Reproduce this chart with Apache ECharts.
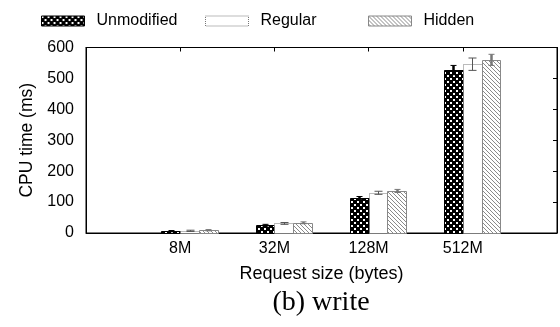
<!DOCTYPE html>
<html><head><meta charset="utf-8">
<script src="https://cdn.jsdelivr.net/npm/echarts@6/dist/echarts.min.js"></script>
<style>html,body{margin:0;padding:0;background:#fff}#c{width:560px;height:327px}</style>
</head><body><div id="c"></div>
<script>
const categories = ['8M', '32M', '128M', '512M'];
const seriesNames = ['Unmodified', 'Regular', 'Hidden'];
const unmodified = [6, 25, 113, 527];
const regular = [7, 31, 130, 546];
const hidden = [9, 33, 136, 560];
const unmodifiedErr = [2, 3, 5, 15];
const regularErr = [2, 3, 5, 20];
const hiddenErr = [2, 3, 5, 18];
const yTicks = [0, 100, 200, 300, 400, 500, 600];

function makeTile(kind) {
  const c = document.createElement('canvas');
  const ctx = c.getContext('2d');
  if (kind === 'check') {
    c.width = 6; c.height = 6;
    ctx.fillStyle = '#000'; ctx.fillRect(0, 0, 6, 6);
    ctx.fillStyle = '#fff';
    ctx.fillRect(0, 0, 2, 2); ctx.fillRect(3, 3, 2, 2);
  } else {
    c.width = 4; c.height = 4;
    ctx.fillStyle = '#fff'; ctx.fillRect(0, 0, 4, 4);
    ctx.fillStyle = '#8a8a8a';
    for (let i = 0; i < 4; i++) ctx.fillRect(i, i, 1, 1);
  }
  return c;
}
const checkPat = { image: makeTile('check'), repeat: 'repeat' };
const hatchPat = { image: makeTile('hatch'), repeat: 'repeat' };

const styles = [
  { color: checkPat, borderColor: '#000', borderWidth: 1, borderType: 'solid', errColor: '#000', errWidth: 2.5, cap: 3 },
  { color: '#fff', borderColor: '#777', borderWidth: 1, borderType: 'dotted', errColor: '#555', errWidth: 1, cap: 4 },
  { color: hatchPat, borderColor: '#888', borderWidth: 1, borderType: 'solid', errColor: '#777', errWidth: 2.5, cap: 3 }
];
const offsets = [-0.1, 0.1, 0.3];
const barW = 0.2;
const allVals = [unmodified, regular, hidden];
const allErr = [unmodifiedErr, regularErr, hiddenErr];

const series = [];
seriesNames.forEach((name, s) => {
  const st = styles[s];
  series.push({
    name: name, type: 'custom', xAxisIndex: 0, yAxisIndex: 0,
    itemStyle: { color: st.color, borderColor: st.borderColor, borderWidth: st.borderWidth, borderType: st.borderType },
    data: categories.map((c, i) => [i, allVals[s][i]]),
    renderItem: function (params, api) {
      const idx = api.value(0), v = api.value(1);
      const p0 = api.coord([idx + offsets[s] - barW / 2, v]);
      const p1 = api.coord([idx + offsets[s] + barW / 2, 0]);
      return {
        type: 'rect',
        shape: { x: Math.round(p0[0]) + 0.5, y: Math.round(p0[1]) + 0.5, width: Math.round(p1[0]) - Math.round(p0[0]), height: Math.round(p1[1]) - Math.round(p0[1]) },
        style: { fill: st.color, stroke: st.borderColor, lineWidth: st.borderWidth, lineDash: st.borderType === 'dotted' ? [1, 1] : null }
      };
    }
  });
  series.push({
    name: name + ' err', type: 'custom', xAxisIndex: 0, yAxisIndex: 0, z: 5,
    data: categories.map((c, i) => [i, allVals[s][i] - allErr[s][i], allVals[s][i] + allErr[s][i]]),
    renderItem: function (params, api) {
      const idx = api.value(0);
      const lo = api.coord([idx + offsets[s], api.value(1)]);
      const hi = api.coord([idx + offsets[s], api.value(2)]);
      const x = Math.round(lo[0]) + 0.5;
      const ls = { stroke: st.errColor, lineWidth: st.errWidth };
      const cs = { stroke: st.errColor, lineWidth: 1 };
      return {
        type: 'group', children: [
          { type: 'line', shape: { x1: x, y1: lo[1], x2: x, y2: hi[1] }, style: ls },
          { type: 'line', shape: { x1: x - st.cap, y1: lo[1], x2: x + st.cap, y2: lo[1] }, style: cs },
          { type: 'line', shape: { x1: x - st.cap, y1: hi[1], x2: x + st.cap, y2: hi[1] }, style: cs }
        ]
      };
    }
  });
});

const font = 'Liberation Sans, Arial, sans-serif';
const legendLefts = [41, 205, 368];
const legends = seriesNames.map((n, s) => ({
  data: [{ name: n, icon: 'rect', itemStyle: { color: styles[s].color, borderColor: styles[s].borderColor, borderWidth: 1, borderType: styles[s].borderType } }],
  left: legendLefts[s], top: 13, itemWidth: 43, itemHeight: 10, padding: 0,
  selectedMode: false,
  textStyle: { fontFamily: font, fontSize: 16, color: '#000', padding: [0, 0, 0, 7] }
}));

const chart = echarts.init(document.getElementById('c'), null, { renderer: 'canvas' });
chart.setOption({
  animation: false,
  backgroundColor: '#fff',
  legend: legends,
  grid: { left: 86, right: 2, top: 47.5, bottom: 94, show: true, borderColor: '#000', borderWidth: 1, backgroundColor: 'transparent' },
  xAxis: [
    {
      type: 'value', min: -1, max: 4, interval: 1, position: 'bottom',
      name: 'Request size (bytes)', nameLocation: 'middle', nameGap: 32,
      nameTextStyle: { fontFamily: font, fontSize: 18, color: '#000' },
      axisLine: { show: true, onZero: false, lineStyle: { color: '#000', width: 1 } },
      axisTick: { show: false }, splitLine: { show: false },
      axisLabel: { fontFamily: font, fontSize: 16, color: '#000', margin: 8,
        formatter: v => (v >= 0 && v < categories.length) ? categories[Math.round(v)] : '' }
    },
    {
      type: 'value', min: -1, max: 4, interval: 1, position: 'top',
      axisLine: { show: true, onZero: false, lineStyle: { color: '#000' } },
      axisTick: { show: true, inside: true, length: 4, lineStyle: { color: '#000' } },
      axisLabel: { show: false }, splitLine: { show: false }
    }
  ],
  yAxis: [
    {
      type: 'value', min: yTicks[0], max: yTicks[yTicks.length - 1], interval: 100, position: 'left',
      name: 'CPU time (ms)', nameLocation: 'middle', nameGap: 45,
      nameTextStyle: { fontFamily: font, fontSize: 17.5, color: '#000' },
      axisLine: { show: true, onZero: false, lineStyle: { color: '#000' } },
      axisTick: { show: false }, splitLine: { show: false },
      axisLabel: { fontFamily: font, fontSize: 16, color: '#000', margin: 12 }
    },
    {
      type: 'value', min: yTicks[0], max: yTicks[yTicks.length - 1], interval: 100, position: 'right',
      axisLine: { show: true, onZero: false, lineStyle: { color: '#000' } },
      axisTick: { show: true, inside: true, length: 4, lineStyle: { color: '#000' } },
      axisLabel: { show: false }, splitLine: { show: false }
    }
  ],
  graphic: [{
    type: 'text', x: 321, y: 289,
    style: { text: '(b) write', align: 'center', verticalAlign: 'top', font: '28px "Liberation Serif", "Times New Roman", serif', fill: '#000' }
  }],
  series: series
});
</script></body></html>
